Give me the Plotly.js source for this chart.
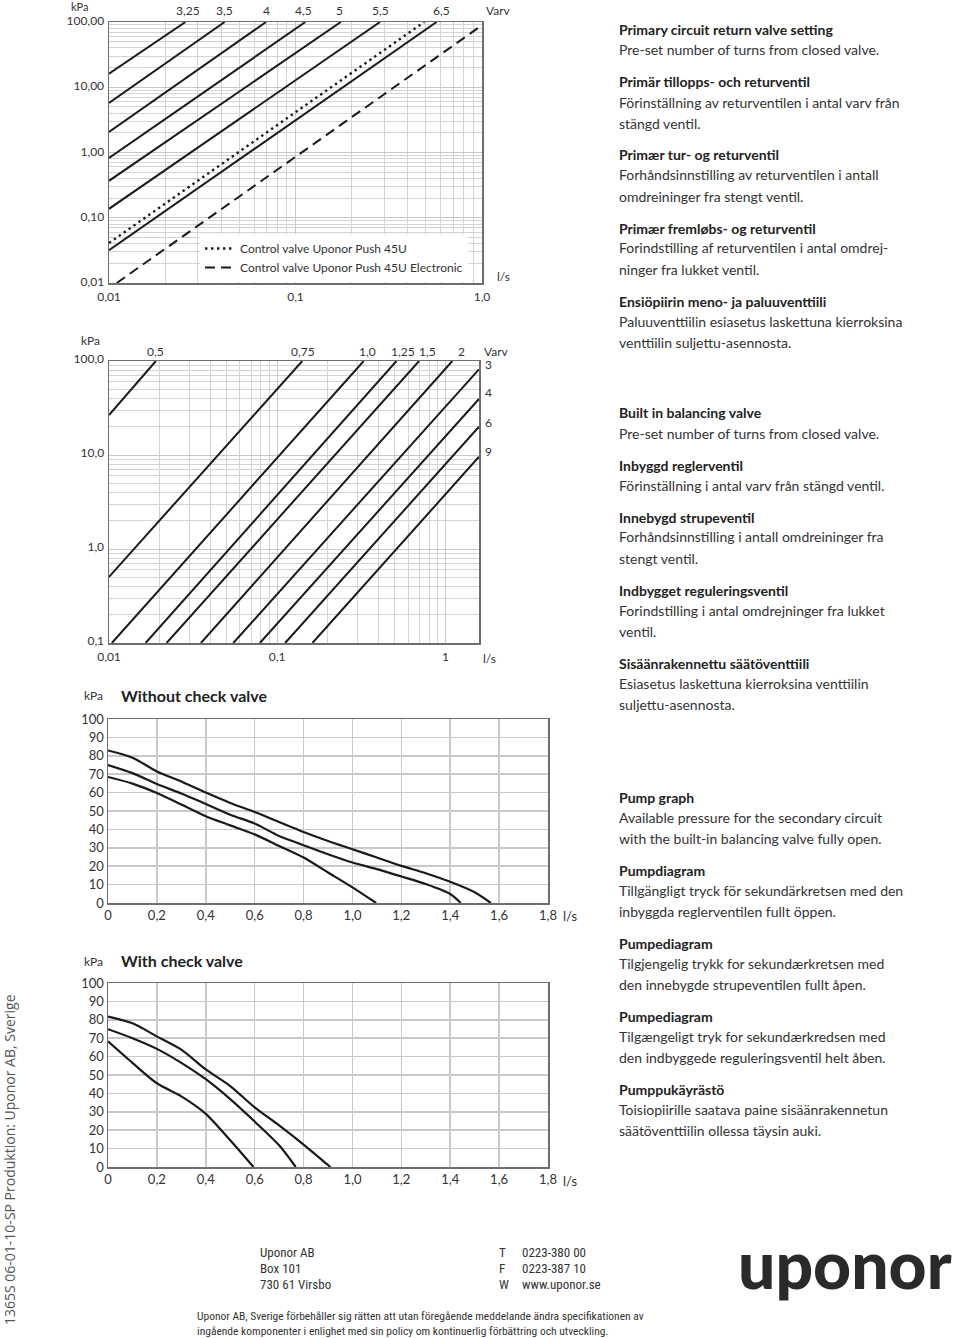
<!DOCTYPE html>
<html><head><meta charset="utf-8">
<script src="https://cdn.plot.ly/plotly-3.0.1.min.js"></script>
<style>html,body{margin:0;padding:0;background:#fff}#chart{width:960px;height:1338px}</style>
</head><body><div id="chart"></div>
<script>
// ---------- Chart 1: primary circuit return valve (log-log) ----------
const valveSettings   = ['3,25','3,5','4','4,5','5','5,5','6,5'];
const valveFlowStart  = [0.01, 0.01, 0.01, 0.01, 0.01, 0.01, 0.01];
const valvePressStart = [16.1, 5.74, 2.07, 0.822, 0.368, 0.137, 0.0318];
const valveFlowEnd    = [0.0257, 0.0417, 0.0695, 0.1129, 0.175, 0.284, 0.571];
const valvePressEnd   = [100, 100, 100, 100, 100, 100, 100];
const valveLabelFlow  = [0.0265, 0.0414, 0.0703, 0.1097, 0.1732, 0.2873, 0.6028];
const push45uName   = 'Control valve Uponor Push 45U';
const push45uFlow   = [0.01, 0.49];
const push45uPress  = [0.041, 100];
const push45uElName  = 'Control valve Uponor Push 45U Electronic';
const push45uElFlow  = [0.011, 1.0];
const push45uElPress = [0.01, 89.3];
const c1XTickVals = [0.01, 0.1, 1];
const c1XTickText = ['0,01', '0,1', '1,0'];
const c1YTickVals = [0.01, 0.1, 1, 10, 100];
const c1YTickText = ['0,01', '0,10', '1,00', '10,00', '100,00'];

// ---------- Chart 2: built-in balancing valve (log-log) ----------
const balSettings   = ['0,5','0,75','1,0','1,25','1,5','2','3','4','6','9'];
const balFlowStart  = [0.01, 0.01, 0.0104, 0.0165, 0.022, 0.0352, 0.0548, 0.0789, 0.1115, 0.162];
const balPressStart = [26.6, 0.505, 0.1, 0.1, 0.1, 0.1, 0.1, 0.1, 0.1, 0.1];
const balFlowEnd    = [0.019, 0.141, 0.327, 0.512, 0.698, 1.10, 1.585, 1.585, 1.585, 1.585];
const balPressEnd   = [100, 100, 100, 100, 100, 100, 81.5, 39.4, 20.0, 9.57];
const balTopLabels   = ['0,5','0,75','1,0','1,25','1,5','2'];
const balTopLabelFlow = [0.0188, 0.1421, 0.344, 0.558, 0.786, 1.25];
const balRightLabels = ['3','4','6','9'];
const balRightLabelPress = [92.9, 45.7, 22.4, 10.8];
const c2XTickVals = [0.01, 0.1, 1];
const c2XTickText = ['0,01', '0,1', '1'];
const c2YTickVals = [0.1, 1, 10, 100];
const c2YTickText = ['0,1', '1,0', '10,0', '100,0'];

// ---------- Chart 3: pump graph without check valve ----------
const flowA = [0, 0.1, 0.2, 0.3, 0.4, 0.5, 0.6, 0.7, 0.8, 0.9, 1.0, 1.1, 1.2, 1.3, 1.4, 1.5, 1.566];
const pressA = [82.9, 79, 71.5, 66, 60, 54.4, 49.4, 44, 38.6, 33.7, 29.2, 24.7, 20.2, 16.2, 11.5, 5.8, 0];
const flowB = [0, 0.1, 0.2, 0.3, 0.38, 0.5, 0.6, 0.7, 0.8, 0.9, 1.0, 1.1, 1.2, 1.3, 1.4, 1.443];
const pressB = [75, 70.6, 64.7, 59.5, 55, 48, 43.2, 36.4, 31.4, 26.5, 22, 18.4, 14.4, 10.3, 4.9, 0];
const flowC = [0, 0.1, 0.2, 0.3, 0.4, 0.5, 0.6, 0.7, 0.8, 0.9, 1.0, 1.097];
const pressC = [68.5, 64.9, 59.8, 53.5, 47.2, 42.2, 37.3, 31, 24.7, 16.6, 8.5, 0];

// ---------- Chart 4: pump graph with check valve ----------
const flowD = [0, 0.1, 0.2, 0.3, 0.4, 0.5, 0.6, 0.7, 0.8, 0.9, 0.91];
const pressD = [81.7, 78.1, 71, 63.8, 53, 44, 32.4, 22.6, 12.2, 1.1, 0];
const flowE = [0, 0.1, 0.2, 0.3, 0.4, 0.5, 0.6, 0.7, 0.768];
const pressE = [74.9, 70, 64.2, 56.6, 47.7, 36.9, 24.7, 11.8, 0];
const flowF = [0, 0.1, 0.2, 0.3, 0.4, 0.5, 0.595];
const pressF = [68.3, 56.6, 45.5, 38.4, 28.9, 14.5, 0];

const pumpXTickVals = [0, 0.2, 0.4, 0.6, 0.8, 1.0, 1.2, 1.4, 1.6, 1.8];
const pumpXTickText = ['0','0,2','0,4','0,6','0,8','1,0','1,2','1,4','1,6','1,8'];
const pumpYTickVals = [0, 10, 20, 30, 40, 50, 60, 70, 80, 90, 100];
const pumpYTickText = ['0','10','20','30','40','50','60','70','80','90','100'];

// ---------- Text ----------
const textGroups = [
  {start: 30, blocks: [
    ['Primary circuit return valve setting', 'Pre-set number of turns from closed valve.'],
    ['Primär tillopps- och returventil', 'Förinställning av returventilen i antal varv från', 'stängd ventil.'],
    ['Primær tur- og returventil', 'Forhåndsinnstilling av returventilen i antall', 'omdreininger fra stengt ventil.'],
    ['Primær fremløbs- og returventil', 'Forindstilling af returventilen i antal omdrej-', 'ninger fra lukket ventil.'],
    ['Ensiöpiirin meno- ja paluuventtiili', 'Paluuventtiilin esiasetus laskettuna kierroksina', 'venttiilin suljettu-asennosta.']
  ]},
  {start: 413, blocks: [
    ['Built in balancing valve', 'Pre-set number of turns from closed valve.'],
    ['Inbyggd reglerventil', 'Förinställning i antal varv från stängd ventil.'],
    ['Innebygd strupeventil', 'Forhåndsinnstilling i antall omdreininger fra', 'stengt ventil.'],
    ['Indbygget reguleringsventil', 'Forindstilling i antal omdrejninger fra lukket', 'ventil.'],
    ['Sisäänrakennettu säätöventtiili', 'Esiasetus laskettuna kierroksina venttiilin', 'suljettu-asennosta.']
  ]},
  {start: 797, blocks: [
    ['Pump graph', 'Available pressure for the secondary circuit', 'with the built-in balancing valve fully open.'],
    ['Pumpdiagram', 'Tillgängligt tryck för sekundärkretsen med den', 'inbyggda reglerventilen fullt öppen.'],
    ['Pumpediagram', 'Tilgjengelig trykk for sekundærkretsen med', 'den innebygde strupeventilen fullt åpen.'],
    ['Pumpediagram', 'Tilgængeligt tryk for sekundærkredsen med', 'den indbyggede reguleringsventil helt åben.'],
    ['Pumppukäyrästö', 'Toisiopiirille saatava paine sisäänrakennetun', 'säätöventtiilin ollessa täysin auki.']
  ]}
];
const addressLines = ['Uponor AB', 'Box 101', '730 61 Virsbo'];
const contactKeys = ['T', 'F', 'W'];
const contactVals = ['0223-380 00', '0223-387 10', 'www.uponor.se'];
const disclaimer = ['Uponor AB, Sverige förbehåller sig rätten att utan föregående meddelande ändra specifikationen av',
                    'ingående komponenter i enlighet med sin policy om kontinuerlig förbättring och utveckling.'];
const sideText = '1365S 06-01-10-SP Produktion: Uponor AB, Sverige';

// ---------- Build ----------
const W = 960, H = 1338;
const FONT = 'Lato, "Open Sans", sans-serif';
const NARROW = '"Liberation Sans Narrow", "Roboto Condensed", Roboto, sans-serif';
const INK = '#1a1a1a', TXT = '#333333', GRID = '#c9c9c9', FRAME = '#6e6e6e';
const px = x => x / W;
const py = y => 1 - y / H;

const traces = [];
function seg(x0, y0, x1, y1, xa, ya, extra) {
  traces.push(Object.assign({type:'scatter', mode:'lines', x:[x0, x1], y:[y0, y1], xaxis:xa, yaxis:ya,
    line:{color:INK, width:2}, showlegend:false, hoverinfo:'skip'}, extra || {}));
}
valveSettings.forEach((s, i) => seg(valveFlowStart[i], valvePressStart[i], valveFlowEnd[i], valvePressEnd[i], 'x', 'y', {name:s}));
traces.push({type:'scatter', mode:'lines', x:push45uFlow, y:push45uPress, xaxis:'x', yaxis:'y', name:push45uName,
  line:{color:INK, width:2.4, dash:'2.4px,3.6px'}, showlegend:true, hoverinfo:'skip'});
traces.push({type:'scatter', mode:'lines', x:push45uElFlow, y:push45uElPress, xaxis:'x', yaxis:'y', name:push45uElName,
  line:{color:INK, width:2, dash:'10px,6px'}, showlegend:true, hoverinfo:'skip'});
balSettings.forEach((s, i) => seg(balFlowStart[i], balPressStart[i], balFlowEnd[i], balPressEnd[i], 'x2', 'y2', {name:s}));

function curve(x, y, xa, ya) {
  traces.push({type:'scatter', mode:'lines', x:x, y:y, xaxis:xa, yaxis:ya, line:{color:INK, width:2.2, shape:'spline', smoothing:0.8},
    showlegend:false, hoverinfo:'skip'});
}
curve(flowA, pressA, 'x3', 'y3'); curve(flowB, pressB, 'x3', 'y3'); curve(flowC, pressC, 'x3', 'y3');
curve(flowD, pressD, 'x4', 'y4'); curve(flowE, pressE, 'x4', 'y4'); curve(flowF, pressF, 'x4', 'y4');

function minorLog(d0, d1) { const v = []; for (let d = d0; d <= d1 * 1.0001; d *= 10) for (let k = 2; k <= 9; k++) v.push(k * d); return v; }

const tickFont = {family: FONT, size: 12, color: TXT};
function logAxis(domain, range, tv, tt, minorVals, anchor, yShift) {
  const a = {type:'log', domain:domain, range:range, anchor:anchor, tickmode:'array', tickvals:tv, ticktext:tt,
    showgrid:true, gridcolor:GRID, gridwidth:1, zeroline:false, showline:true, mirror:true, linecolor:FRAME, linewidth:1.5,
    ticks:'', tickfont:tickFont, fixedrange:true,
    minor:{tickmode:'array', tickvals:minorVals, showgrid:true, gridcolor:'#d4d4d4', gridwidth:1, ticks:''}};
  if (yShift !== undefined) { a.ticklabelshift = yShift; a.ticklabelstandoff = 1; } else { a.ticklabelstandoff = 2; }
  return a;
}
function linAxis(domain, range, tv, tt, anchor) {
  return {type:'linear', domain:domain, range:range, anchor:anchor, tickmode:'array', tickvals:tv, ticktext:tt,
    showgrid:true, gridcolor:GRID, gridwidth:1.5, zeroline:false, showline:true, mirror:true, linecolor:FRAME, linewidth:1.5,
    ticks:'', tickfont:{family: FONT, size: 13, color: TXT}, fixedrange:true};
}

const layout = {
  width: W, height: H, margin:{l:0, r:0, t:0, b:0}, paper_bgcolor:'#fff', plot_bgcolor:'#fff',
  showlegend:true,
  legend:{x:px(200), y:py(234), xanchor:'left', yanchor:'top', bgcolor:'#ffffff', borderwidth:0,
    font:{family:FONT, size:12, color:TXT}, tracegroupgap:0, itemwidth:30},
  xaxis:  logAxis([px(109), px(482)], [-2, 0], c1XTickVals, c1XTickText, minorLog(0.01, 0.1), 'y'),
  yaxis:  logAxis([py(283), py(22)], [-2, 2], c1YTickVals, c1YTickText, minorLog(0.01, 10), 'x', -1),
  xaxis2: logAxis([px(109), px(479)], [-2, Math.log10(1.585)], c2XTickVals, c2XTickText, minorLog(0.01, 0.1), 'y2'),
  yaxis2: logAxis([py(643), py(361)], [-1, 2], c2YTickVals, c2YTickText, minorLog(0.1, 10), 'x2', -2),
  xaxis3: linAxis([px(108), px(548)], [0, 1.8], pumpXTickVals, pumpXTickText, 'y3'),
  yaxis3: linAxis([py(903), py(719)], [0, 100], pumpYTickVals, pumpYTickText, 'x3'),
  xaxis4: linAxis([px(108), px(548)], [0, 1.8], pumpXTickVals, pumpXTickText, 'y4'),
  yaxis4: linAxis([py(1167), py(983)], [0, 100], pumpYTickVals, pumpYTickText, 'x4'),
  annotations: []
};
const ann = layout.annotations;
function txt(text, x, y, size, o) {
  o = o || {};
  ann.push({xref:'paper', yref:'paper', x:px(x), y:py(y), text:text, showarrow:false,
    xanchor:o.xanchor || 'left', yanchor:o.yanchor || 'middle', textangle:o.angle || 0,
    font:{family:o.family || FONT, size:size, color:o.color || TXT, weight:o.weight || 400}});
}

// chart 1 labels
valveSettings.forEach((s, i) => ann.push({xref:'x', yref:'paper', x:Math.log10(valveLabelFlow[i]), y:py(11), text:s,
  showarrow:false, xanchor:'center', yanchor:'middle', font:{family:FONT, size:12, color:TXT}}));
txt('kPa', 80, 6, 11, {xanchor:'center'});
txt('Varv', 498, 11, 12, {xanchor:'center'});
txt('l/s', 503, 276, 12, {xanchor:'center'});

// chart 2 labels
balTopLabels.forEach((s, i) => ann.push({xref:'x2', yref:'paper', x:Math.log10(balTopLabelFlow[i]), y:py(351), text:s,
  showarrow:false, xanchor:'center', yanchor:'middle', font:{family:FONT, size:12, color:TXT}}));
balRightLabels.forEach((s, i) => ann.push({xref:'paper', yref:'y2', x:px(483), y:Math.log10(balRightLabelPress[i]), text:s,
  showarrow:false, xanchor:'left', yanchor:'middle', font:{family:FONT, size:12, color:TXT}}));
txt('kPa', 90, 340, 12, {xanchor:'center'});
txt('Varv', 496, 351, 12, {xanchor:'center'});
txt('l/s', 490, 658, 12, {xanchor:'center'});

// chart 3 / 4 labels
txt('kPa', 93, 696, 12, {xanchor:'center'});
txt('Without check valve', 119, 695, 16, {weight:700, color:'#222'});
txt('l/s', 570, 916, 13, {xanchor:'center'});
txt('kPa', 93, 961, 12, {xanchor:'center'});
txt('With check valve', 119, 960, 16, {weight:700, color:'#222'});
txt('l/s', 570, 1181, 13, {xanchor:'center'});

// right column
textGroups.forEach(g => {
  let y = g.start;
  g.blocks.forEach((b, bi) => {
    if (bi > 0) y += 31;
    txt(b[0], 617, y, 14, {weight:700, color:'#222'});
    for (let k = 1; k < b.length; k++) { y += 21; txt(b[k], 617, y - 1, 14, {color:'#333'}); }
  });
});

// footer
addressLines.forEach((s, i) => txt(s, 258, 1252 + 16 * i, 13, {family:NARROW, color:'#333'}));
contactKeys.forEach((s, i) => txt(s, 497, 1252 + 16 * i, 13, {family:NARROW, color:'#333'}));
contactVals.forEach((s, i) => txt(s, 520, 1252 + 16 * i, 13, {family:NARROW, color:'#333'}));
disclaimer.forEach((s, i) => txt(s, 195, 1316 + 15 * i, 11.5, {family:NARROW, color:'#333'}));
txt('uponor', 845, 1263, 66, {xanchor:'center', weight:900, color:'#2a2a2a'});
txt(sideText, 9, 1160, 14, {xanchor:'center', angle:-90, color:'#555', family:'"Open Sans", sans-serif'});

Plotly.newPlot('chart', traces, layout, {staticPlot:true, displayModeBar:false});
</script>
</body></html>
